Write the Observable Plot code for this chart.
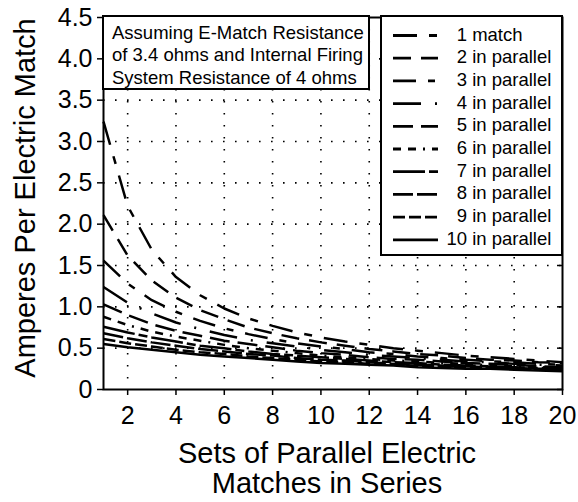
<!DOCTYPE html>
<html><head><meta charset="utf-8">
<script src="https://cdn.jsdelivr.net/npm/d3@7"></script>
<script src="https://cdn.jsdelivr.net/npm/@observablehq/plot@0.6"></script>
<style>
body{margin:0;background:#fff}
svg{font-family:"Liberation Sans",Arial,Helvetica,sans-serif}
</style>
</head><body><div id="chart"></div>
<script>
// Sets of parallel electric matches in series (x)
const sets = [1,2,3,4,5,6,7,8,9,10,11,12,13,14,15,16,17,18,19,20];
// Amperes per electric match, one array per number of matches in parallel
const p1  = [3.24,2.22,1.69,1.36,1.14,0.98,0.86,0.77,0.69,0.63,0.58,0.54,0.50,0.47,0.44,0.41,0.39,0.37,0.35,0.33];
const p2  = [2.11,1.62,1.32,1.11,0.96,0.85,0.75,0.68,0.62,0.57,0.53,0.49,0.46,0.43,0.41,0.38,0.36,0.35,0.33,0.32];
const p3  = [1.56,1.28,1.08,0.94,0.83,0.74,0.67,0.61,0.56,0.52,0.49,0.45,0.43,0.40,0.38,0.36,0.34,0.33,0.31,0.30];
const p4  = [1.24,1.05,0.92,0.81,0.73,0.66,0.60,0.56,0.52,0.48,0.45,0.42,0.40,0.38,0.36,0.34,0.33,0.31,0.30,0.29];
const p5  = [1.03,0.90,0.79,0.71,0.65,0.59,0.55,0.51,0.47,0.44,0.42,0.39,0.37,0.36,0.34,0.32,0.31,0.30,0.28,0.27];
const p6  = [0.88,0.78,0.70,0.64,0.59,0.54,0.50,0.47,0.44,0.41,0.39,0.37,0.35,0.34,0.32,0.31,0.29,0.28,0.27,0.26];
const p7  = [0.76,0.69,0.63,0.58,0.53,0.50,0.46,0.43,0.41,0.39,0.37,0.35,0.33,0.32,0.30,0.29,0.28,0.27,0.26,0.25];
const p8  = [0.68,0.62,0.57,0.53,0.49,0.46,0.43,0.41,0.38,0.36,0.35,0.33,0.31,0.30,0.29,0.28,0.27,0.26,0.25,0.24];
const p9  = [0.61,0.56,0.52,0.48,0.45,0.43,0.40,0.38,0.36,0.34,0.33,0.31,0.30,0.29,0.28,0.27,0.26,0.25,0.24,0.23];
const p10 = [0.55,0.51,0.48,0.45,0.42,0.40,0.38,0.36,0.34,0.32,0.31,0.30,0.29,0.27,0.26,0.25,0.25,0.24,0.23,0.22];
const seriesNums = ["1","2","3","4","5","6","7","8","9","10"];
const seriesRest = [" match"," in parallel"," in parallel"," in parallel"," in parallel"," in parallel"," in parallel"," in parallel"," in parallel"," in parallel"];
const yTicks = [0,0.5,1,1.5,2,2.5,3,3.5,4,4.5];
const yTickLabels = ["0","0.5","1.0","1.5","2.0","2.5","3.0","3.5","4.0","4.5"];
const xTicks = [2,4,6,8,10,12,14,16,18,20];
const yGrid = [0.5,1,1.5,2,2.5,3,3.5,4];
const xGrid = [2,4,6,8,10,12,14,16,18];
const xTitle = ["Sets of Parallel Electric","Matches in Series"];
const yTitle = "Amperes Per Electric Match";
const note = ["Assuming E-Match Resistance","of 3.4 ohms and Internal Firing","System Resistance of 4 ohms"];

// styles
const dashes = ["24,12,8,12","18,10","23,12,7,12","28,14,2,14","20,8","8,7,8,7,2,7","32,4,9,4","20,4","12,4",null];

const series = [p1,p2,p3,p4,p5,p6,p7,p8,p9,p10];
const W = 578, H = 502, ML = 103, MR = 16, MT = 17, MB = 113;

const lineMarks = series.map((vals, i) =>
  Plot.line(sets.map((n, j) => ({n, a: vals[j]})), {
    x: "n", y: "a", stroke: "#000", strokeWidth: 2.5,
    strokeDasharray: dashes[i] ?? undefined, strokeLinecap: "butt", strokeLinejoin: "round"
  })
);

const chart = Plot.plot({
  width: W, height: H,
  marginLeft: ML, marginRight: MR, marginTop: MT, marginBottom: MB,
  style: {fontFamily: '"Liberation Sans",Arial,sans-serif', fontSize: "25px", color: "#000", background: "#fff", overflow: "visible"},
  x: {domain: [1, 20]},
  y: {domain: [0, 4.5]},
  marks: [
    Plot.ruleY(yGrid, {stroke: "#000", strokeWidth: 1.6, strokeDasharray: "1.6,10.4"}),
    Plot.ruleX(xGrid, {stroke: "#000", strokeWidth: 1.6, strokeDasharray: "1.6,10.4"}),
    ...lineMarks,
    Plot.ruleY(yTicks, {x1: 20 - 5/24.16, x2: 20, stroke: "#000", strokeWidth: 1.5}),
    Plot.frame({stroke: "#000", strokeWidth: 2}),
    Plot.axisY(yTicks, {tickFormat: d => yTickLabels[yTicks.indexOf(d)], tickSize: 6, tickPadding: 5, fontSize: 25, label: null, strokeWidth: 1.5}),
    Plot.axisX(xTicks, {tickFormat: d => String(d), tickSize: 6, tickPadding: 11, fontSize: 25, label: null, strokeWidth: 1.5})
  ]
});
document.getElementById("chart").appendChild(chart);

const svg = d3.select(chart);
// axis titles
const xt = svg.append("text").attr("text-anchor", "middle").attr("font-size", 29).attr("fill", "#000");
xTitle.forEach((t, i) => xt.append("tspan").attr("x", 327).attr("y", 463 + i * 30).text(t));
svg.append("text").attr("text-anchor", "middle").attr("font-size", 29).attr("fill", "#000")
  .attr("transform", "translate(35,198) rotate(-90)").text(yTitle);

// annotation box
svg.append("rect").attr("x", 103).attr("y", 16).attr("width", 266).attr("height", 73)
  .attr("fill", "#fff").attr("stroke", "#000").attr("stroke-width", 2);
note.forEach((t, i) => svg.append("text").attr("x", 112).attr("y", 38.5 + i * 22.6)
  .attr("text-anchor", "start").attr("font-size", 18.5).attr("fill", "#000").text(t));

// legend
svg.append("rect").attr("x", 381).attr("y", 16).attr("width", 181).attr("height", 239)
  .attr("fill", "#fff").attr("stroke", "#000").attr("stroke-width", 2);
series.forEach((_, i) => {
  const by = 40.5 + i * 22.7;
  const ln = svg.append("line").attr("x1", 393).attr("x2", 438).attr("y1", by - 5).attr("y2", by - 5)
    .attr("stroke", "#000").attr("stroke-width", 2.8);
  if (dashes[i]) ln.attr("stroke-dasharray", dashes[i]);
  svg.append("text").attr("x", 467).attr("y", by).attr("text-anchor", "end").attr("font-size", 18.5).attr("fill", "#000").text(seriesNums[i]);
  svg.append("text").attr("x", 467).attr("y", by).attr("text-anchor", "start").attr("font-size", 18.5).attr("fill", "#000")
    .style("white-space", "pre").text(seriesRest[i]);
});
</script>
</body></html>
